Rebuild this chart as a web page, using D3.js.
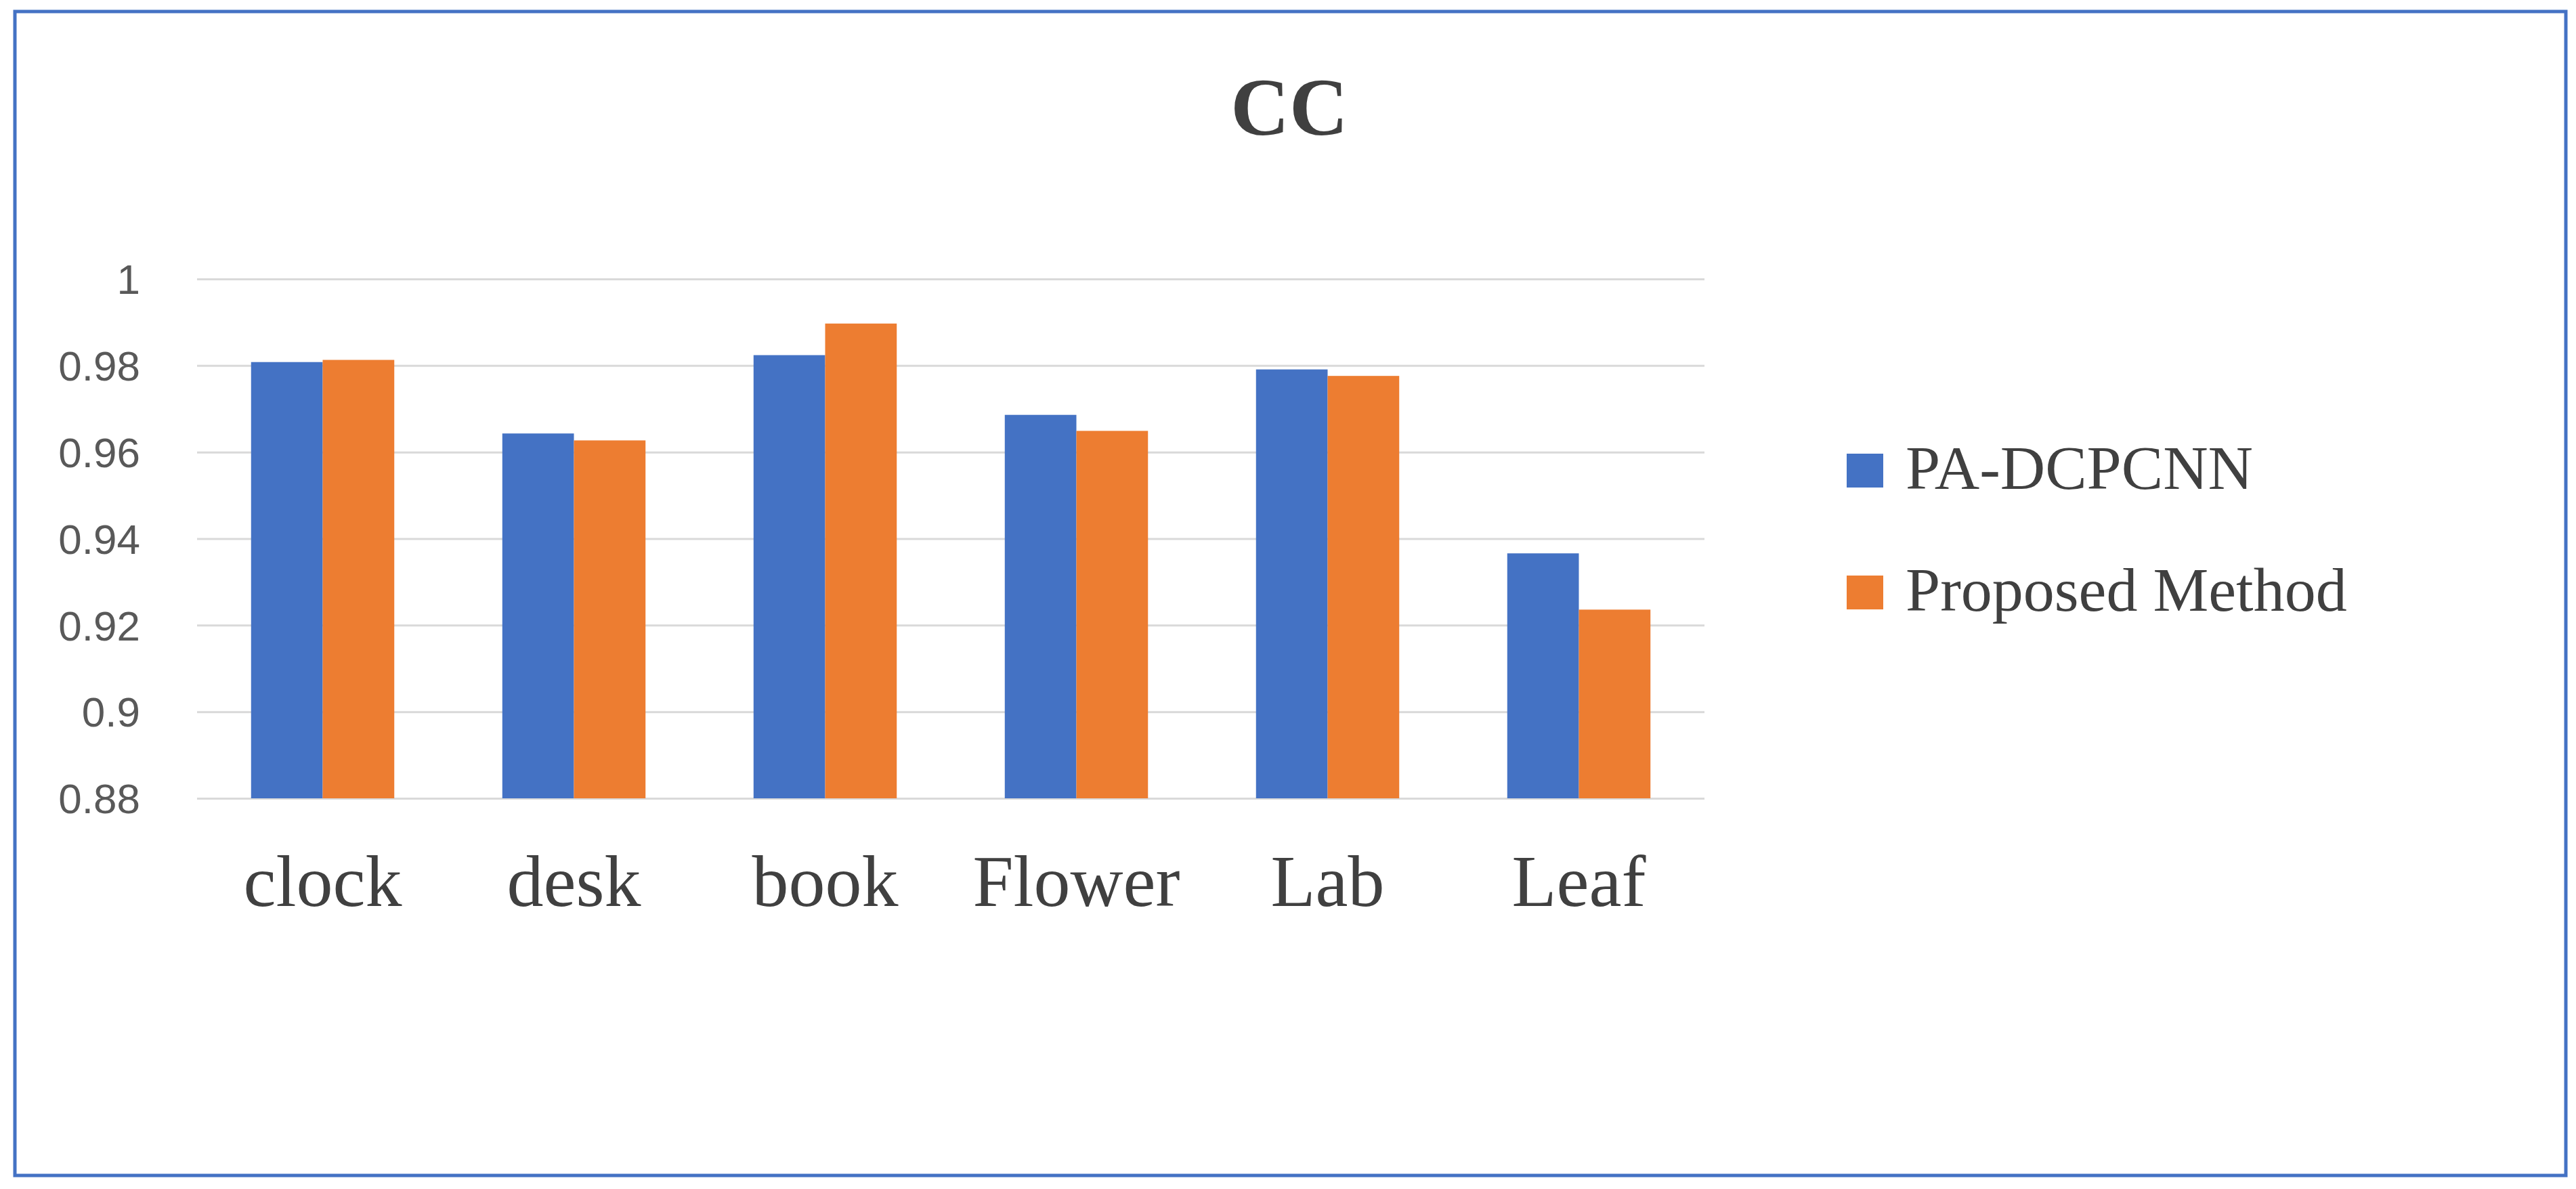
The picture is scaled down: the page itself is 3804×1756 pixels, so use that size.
<!DOCTYPE html>
<html><head><meta charset="utf-8">
<script src="https://cdn.jsdelivr.net/npm/d3@7"></script>
<style>html,body{margin:0;padding:0;background:#fff}</style>
</head><body>
<svg id="c" width="3804" height="1756"></svg>
<script>
const categories = ["clock","desk","book","Flower","Lab","Leaf"];
const seriesNames = ["PA-DCPCNN","Proposed Method"];
const paDcpcnn = [0.9808,0.9643,0.9824,0.9686,0.9791,0.9366];
const proposed = [0.9813,0.9627,0.9897,0.9649,0.9776,0.9236];
const yTicks = [0.88,0.9,0.92,0.94,0.96,0.98,1];
const colors = ["#4472C4","#ED7D31"];

const svg = d3.select("#c");
svg.append("rect").attr("x",22).attr("y",17).attr("width",3767).attr("height",1719)
  .attr("fill","#fff").attr("stroke","#4472C4").attr("stroke-width",5);

const L=291,R=2517,T=412,B=1179;
const x = d3.scaleBand().domain(categories).range([L,R]).paddingInner(0.43).paddingOuter(0.215);
const xs = d3.scaleBand().domain(seriesNames).range([0,x.bandwidth()]);
const y = d3.scaleLinear().domain([0.88,1]).range([B,T]);

const grid = svg.append("g").attr("transform",`translate(${L},0)`)
  .call(d3.axisLeft(y).tickValues(yTicks).tickSize(-(R-L)).tickFormat(d=>d3.format("~g")(d)).tickPadding(84));
grid.select(".domain").remove();
grid.selectAll(".tick line").attr("stroke","#d9d9d9").attr("stroke-width",3);
grid.selectAll(".tick text").attr("fill","#595959").attr("font-family","'Liberation Sans', Arial, sans-serif")
  .attr("font-size",62).attr("dy","0.35em");

const data = [paDcpcnn, proposed];
data.forEach((vals,si)=>{
  svg.append("g").selectAll("rect").data(categories).join("rect")
    .attr("x",c=>x(c)+xs(seriesNames[si]))
    .attr("width",xs.bandwidth())
    .attr("y",(c,i)=>y(vals[i]))
    .attr("height",(c,i)=>y(0.88)-y(vals[i]))
    .attr("fill",colors[si]);
});

const xa = svg.append("g").attr("transform",`translate(0,${B})`)
  .call(d3.axisBottom(x).tickSize(0).tickPadding(0));
xa.select(".domain").remove();
xa.selectAll(".tick text").attr("fill","#404040").attr("font-family","'Liberation Serif', 'Times New Roman', serif")
  .attr("font-size",108).attr("dy",0).attr("y",159);

svg.append("text").attr("x",1904).attr("y",199).attr("text-anchor","middle")
  .attr("font-family","'Liberation Serif', 'Times New Roman', serif").attr("font-weight","bold")
  .attr("font-size",120).attr("fill","#404040").text("CC");

const lg = svg.append("g");
seriesNames.forEach((n,i)=>{
  const yy = 722 + i*180;
  lg.append("rect").attr("x",2727).attr("y",yy-52).attr("width",54).attr("height",50).attr("fill",colors[i]);
  lg.append("text").attr("x",2814).attr("y",yy).attr("font-family","'Liberation Serif', 'Times New Roman', serif")
    .attr("font-size",92).attr("fill","#404040").text(n);
});
</script>
</body></html>
